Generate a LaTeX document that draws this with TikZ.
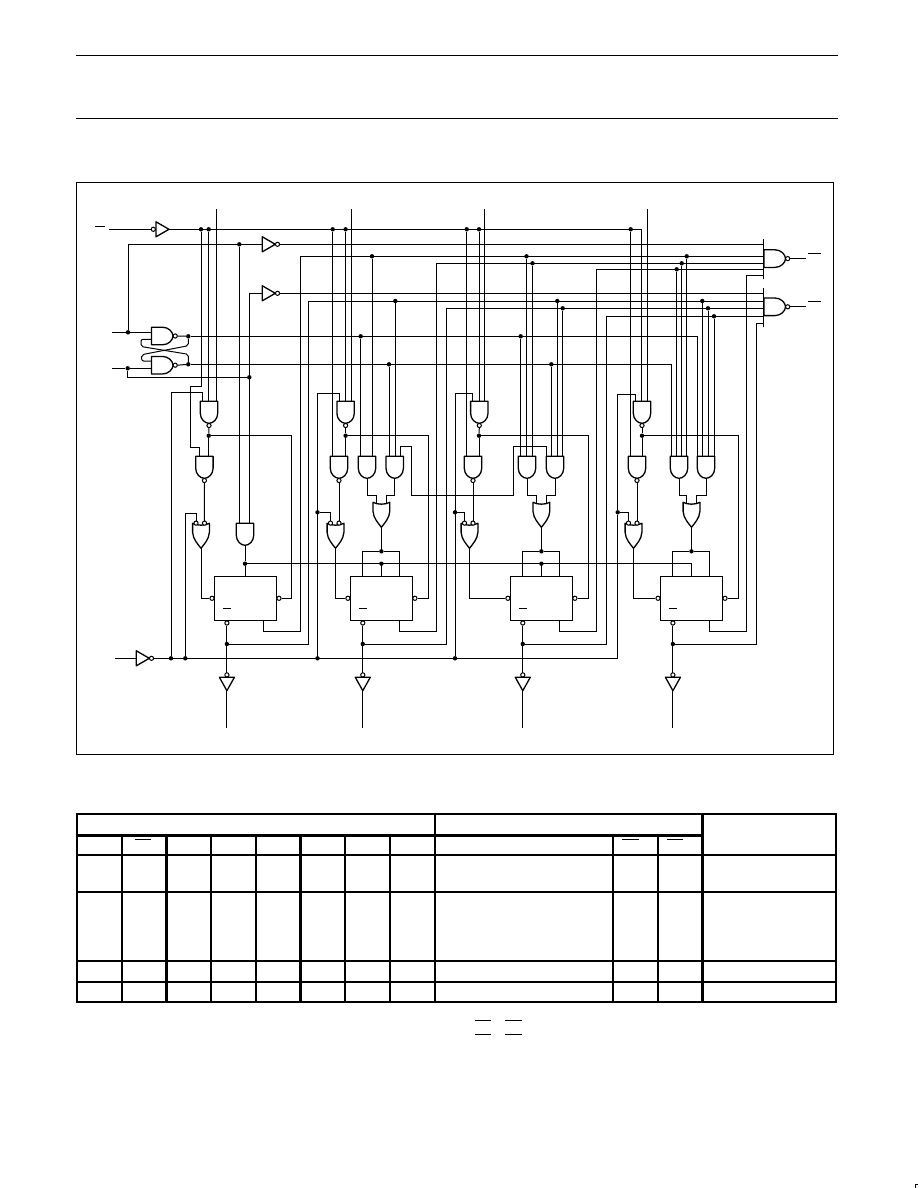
\documentclass[tikz,border=0pt]{standalone}
\newcommand{\barx}{763.5}
\tikzset{
  wire/.style={line width=1pt},
  gate/.style={line width=1.3pt,line join=round},
  dotn/.style={circle,fill=black,inner sep=0pt,minimum size=4.4pt},
  bub/.style={circle,draw,fill=white,line width=1pt,inner sep=0pt,minimum size=4.2pt},
  ffbox/.style={draw,line width=1.1pt,minimum width=62.4pt,minimum height=44pt,inner sep=0pt},
  andv/.pic={
    \draw[gate] (-8.7,12) -- (-8.7,0) -- (8.7,0) -- (8.7,12) .. controls (8.7,18) and (4,22) .. (0,22)
      .. controls (-4,22) and (-8.7,18) .. (-8.7,12) -- cycle;
    \coordinate (-top) at (0,0);
    \coordinate (-out) at (0,22);
  },
  nandv/.pic={
    \draw[gate] (-8.7,12) -- (-8.7,0) -- (8.7,0) -- (8.7,12) .. controls (8.7,18) and (4,22) .. (0,22)
      .. controls (-4,22) and (-8.7,18) .. (-8.7,12) -- cycle;
    \draw[wire,fill=white] (0,24.2) circle (2.1);
    \coordinate (-top) at (0,0);
    \coordinate (-out) at (0,26.3);
  },
  orv/.pic={
    \draw[gate] (-8.4,0) .. controls (-4,2.5) and (4,2.5) .. (8.4,0) -- (8.4,9) .. controls (8,16) and (3,21) .. (0,25)
      .. controls (-3,21) and (-8,16) .. (-8.4,9) -- cycle;
    \coordinate (-l) at (-4.7,1.5);
    \coordinate (-r) at (4.7,1.5);
    \coordinate (-lu) at (-4.7,-7);
    \coordinate (-ru) at (4.7,-7);
    \coordinate (-out) at (0,25);
  },
  norb/.pic={
    \draw[gate] (-8.4,0) .. controls (-4,2.5) and (4,2.5) .. (8.4,0) -- (8.4,9) .. controls (8,16) and (3,21) .. (0,25)
      .. controls (-3,21) and (-8,16) .. (-8.4,9) -- cycle;
    \draw[wire,fill=white] (-5,-0.2) circle (2.1);
    \draw[wire,fill=white] (3.5,-0.2) circle (2.1);
    \coordinate (-p) at (-5,-2.3);
    \coordinate (-q) at (3.5,-2.3);
    \coordinate (-pu) at (-5,-10);
    \coordinate (-out) at (0,25);
  },
  nandh/.pic={
    \draw[gate] (0,-8.8) -- (11,-8.8) .. controls (17,-8.8) and (21.5,-4) .. (21.5,0)
      .. controls (21.5,4) and (17,8.8) .. (11,8.8) -- (0,8.8) -- cycle;
    \draw[wire,fill=white] (23.7,0) circle (2.1);
    \coordinate (-in) at (0,0);
    \coordinate (-out) at (25.8,0);
  },
  invr/.pic={
    \draw[gate] (0,-7.5) -- (13,0) -- (0,7.5) -- cycle;
    \draw[wire,fill=white] (15.2,0) circle (2.1);
    \coordinate (-in) at (0,0);
    \coordinate (-out) at (17.3,0);
  },
  bufl/.pic={
    \draw[gate] (0,-7.5) -- (13,0) -- (0,7.5) -- cycle;
    \draw[wire,fill=white] (-2.7,0) circle (2.1);
    \coordinate (-in) at (-4.8,0);
    \coordinate (-out) at (13,0);
  },
  invd/.pic={
    \draw[gate] (-7.5,0) -- (0,13.4) -- (7.5,0) -- cycle;
    \draw[wire,fill=white] (0,-2.4) circle (2.1);
    \coordinate (-in) at (0,-4.5);
    \coordinate (-out) at (0,13.4);
  },
}

\begin{document}
\begin{tikzpicture}[x=1pt,y=-1pt]
  \useasboundingbox (0,0) rectangle (918,1188);
  % page rules and frame
  \draw[wire] (76,55.5) -- (838,55.5);
  \draw[wire] (76,118.5) -- (838,118.5);
  \draw[wire] (76.5,182.4) rectangle (833.4,754.3);
  \draw[wire] (915.5,1188) -- (915.5,1184.5) -- (918,1184.5);

  % junctions
  \foreach \nm/\x/\y in {k1/201/229.3,k2/208.7/229.3,k3/332.7/229.3,k4/345.6/229.3,k5/466.7/229.3,k6/479/229.3,k7/630.7/229.3,
      j1/239.3/244.3,t1/372/256.3,t2/526.5/256.3,t3/686.7/256.3,u1/532.5/263.3,u2/681.7/263.3,v1/676.7/269.3,
      w1/395.3/301,w2/557.3/301,w3/702.3/301,x1/562.7/308.3,x2/708/308.3,y1/714/316.3,
      q1/188.3/336.3,q2/360.7/336.3,q3/520.7/336.3,r1/188.3/364.3,r2/389/364.3,r3/551.3/364.3,
      s1/128/332.3,s2/127.7/368.3,s3/249.3/377.3,
      p1/171/658.3,p2/185.3/658.3,p3/317.5/658.3,p4/455/658.3,b1/317.5/512.3,b2/455/512.3,b3/617.7/512.3,
      gA/208.7/435.7,gB/345.6/435.7,gC/479/435.7,gD/642/435.7,
      z1/245/563.7,z2/381.4/563.7,z3/541.4/563.7,oB/381.4/551.3,oC/541.4/551.3,oD/691.5/551.3}
    \node[dotn] (\nm) at (\x,\y) {};
  % free ends and gate pins
  \foreach \nm/\x/\y in {tA/216.3/209,tB/351.3/209,tC/484.3/209,tD/647.3/209,
      clkin/109/229.3,inj/112/332.3,ink/112/368.3,cpin/115/658.3,
      pinA/202.7/401.3,pinB/339.3/401.3,pinC/472.3/401.3,pinD/635.7/401.3,pinE/641.7/401.3,
      pinF/199.7/456.3,pinG/400.3/456.3,pinH/546.7/456.3,pinI/671.7/456.3,pinJ/697.7/456.3,
      outq/806/258.6,outqb/806/306.8}
    \coordinate (\nm) at (\x,\y);

  % gates
  \foreach \nm/\x/\y in {nA1/209/401.3,nB1/345.6/401.3,nC1/479.3/401.3,nD1/642/401.3,
      nA2/204.4/456.3,nB2/339/456.3,nC2/473/456.3,nD2/637/456.3}
    \pic (\nm) at (\x,\y) {nandv};
  \foreach \nm/\x in {nB3/367,nB4/394.7,nC3/527,nC4/555,nD3/679,nD4/706}
    \pic (\nm) at (\x,456.3) {andv};
  \pic (andA) at (245,523.3) {andv};
  \foreach \nm/\x in {orA/201,orB/335.5,orC/469.5,orD/633.5}
    \pic (\nm) at (\x,523.3) {norb};
  \foreach \nm/\x in {xB/381.4,xC/541.4,xD/691.5}
    \pic (\nm) at (\x,502.3) {orv};
  \pic (latS) at (151.5,336) {nandh};
  \pic (latR) at (151.5,365.2) {nandh};
  \pic (nandQ) at (764,258.6) {nandh};
  \pic (nandP) at (764,306.8) {nandh};
  \pic (buf1) at (156,229.3) {bufl};
  \pic (invHi) at (262.3,244.3) {invr};
  \pic (invLo) at (262.3,293.3) {invr};
  \pic (invCk) at (136.3,658.3) {invr};
  \draw[wire] (\barx,239.3) -- (\barx,278.7);
  \draw[wire] (\barx,288.3) -- (\barx,327.3);
  \draw[wire] (nandQ-out) -- (outq);
  \draw[wire] (nandP-out) -- (outqb);
  \draw[wire] (808.3,253) -- (820.7,253);
  \draw[wire] (808.3,301.7) -- (820.7,301.7);
  \draw[wire] (95,226) -- (105,226);

  % flip-flops with their output wiring
  \foreach \nm/\xc/\ua/\ya/\ub/\yb/\cx in {A/245.5/300.3/256.3/308.3/301/291.7,B/381.4/436.7/263.3/446.3/308.3/428.3,
      C/541.4/596.7/269.3/606.7/316.3/588.5,D/691.5/746.7/275.3/756.7/323.3/738.3} {
    \node[ffbox] (ff\nm) at (\xc,598.3) {};
    \node[bub] (ffl\nm) at ({\xc-33.5},598.3) {};
    \node[bub] (ffr\nm) at ({\xc+33.5},598.3) {};
    \node[bub] (bq\nm) at ({\xc-18.6},623) {};
    \node[dotn] (m\nm) at ({\xc-18.6},644) {};
    \pic (inv\nm) at ({\xc-18.6},677.3) {invd};
    \coordinate (end\nm) at ({\xc-18.6},727.7);
    \draw[wire] ({\xc-22.5},608) -- ({\xc-14.5},608);
    \draw[wire] (bq\nm) -- (m\nm) -- (inv\nm-in);
    \draw[wire] (inv\nm-out) -- (end\nm);
    \draw[wire] (m\nm) -| (\ub,\yb) -- (\barx,\yb);
    \draw[wire] ([xshift=18pt]ff\nm.south) |- (\ua,631.7) -- (\ua,\ya) -- (\barx,\ya);
    \draw[wire] (ffr\nm) -- (\cx,598.3) |- (g\nm);
    \draw[wire] (or\nm-out) |- (ffl\nm);
    \draw[wire] (or\nm-q) -- (n\nm2-out);
  }

  % clock and latch
  \draw[wire] (clkin) -- (buf1-in);
  \draw[wire] (buf1-out) -| (pinE);
  \draw[wire] (inj) -- (s1) -- (s1 -| latS-in);
  \draw[wire] (ink) -- (s2) -- (s2 -| latR-in);
  \draw[wire] (latS-out) -- (q1);
  \draw[wire] (latR-out) -- (r1);
  \draw[wire,rounded corners=2pt] (151.5,339.3) -- (141,339.3) -- (141,346.5) -- (188.3,354.3) -- (r1);
  \draw[wire,rounded corners=2pt] (151.5,361) -- (141.7,361) -- (141.7,354.7) -- (188.3,345.7) -- (q1);
  \draw[wire] (q1) -| (pinJ);
  \draw[wire] (r1) -| (pinI);
  \draw[wire] (s1) |- (invHi-in);
  \draw[wire] (invHi-out) -- (\barx,244.3);
  \draw[wire] (s2) |- (s3);
  \draw[wire] (s3 |- andA-top) |- (invLo-in);
  \draw[wire] (invLo-out) -- (\barx,293.3);
  \draw[wire] (j1) -- (j1 |- andA-top);
  \draw[wire] (andA-out) -- (z1) -- (z1 |- ffA.north);
  \draw[wire] (z1) -| (ffD.north);
  \draw[wire] (z2) -- (z2 |- ffB.north);
  \draw[wire] (z3) -- (z3 |- ffC.north);

  % count enable line
  \draw[wire] (cpin) -- (invCk-in);
  \draw[wire] (invCk-out) -| (b3);
  \draw[wire] (b3) |- (635.7,394.3) -- (pinD);
  \draw[wire] (b3) -| (orD-p);
  \draw[wire] (p1) |- (202.7,392.3) -- (pinA);
  \draw[wire] (p2) |- (orA-pu) -- (orA-p);
  \draw[wire] (p3) |- (339.3,393.3) -- (pinB);
  \draw[wire] (b1) -| (orB-p);
  \draw[wire] (p4) |- (472.3,393.7) -- (pinC);
  \draw[wire] (b2) -| (orC-p);

  % first and second gate of each stage
  \draw[wire] (k1) |- (190.3,386.3) |- (199.7,447.3) -- (pinF);
  \foreach \from/\gt in {k2/nA1,tA/nA1,k4/nB1,tB/nB1,k3/nB2,k6/nC1,tC/nC1,k5/nC2,tD/nD1,k7/nD2,
      t1/nB3,q2/nB3,w1/nB4,r2/nB4,q3/nC3,t2/nC3,u1/nC3,r3/nC4,w2/nC4,x1/nC4,
      v1/nD3,u2/nD3,t3/nD3,w3/nD4,x2/nD4,y1/nD4}
    \draw[wire] (\from) -- (\from |- \gt-top);
  \foreach \nm in {A,B,C,D} {
    \draw[wire] (n\nm1-out) -- (g\nm);
    \draw[wire] (g\nm) -- (g\nm |- n\nm2-top);
  }
  \draw[wire] (pinG) |- (411.7,446.7) |- (513.3,495.3) |- (546.7,446.7) -- (pinH);

  % third stage gates into the or, then into the flip-flop
  \foreach \nm in {B,C,D} {
    \draw[wire] (n\nm3-out) |- (x\nm-lu) -- (x\nm-l);
    \draw[wire] (n\nm4-out) |- (x\nm-ru) -- (x\nm-r);
    \draw[wire] (x\nm-out) -- (o\nm);
    \draw[wire] ([xshift=-18.6pt]ff\nm.north) |- (o\nm) -| ([xshift=18pt]ff\nm.north);
  }

  % function table
  \foreach \y in {855,892,960.7,982}
    \draw[line width=1.9pt] (77,\y) -- (836,\y);
  \draw[line width=2.7pt] (77,835.3) -- (702.7,835.3);
  \draw[line width=1.9pt] (76,814) -| (836,1002) -| (77,814);
  \foreach \x in {122,211,256,345.3,390,613,658}
    \draw[line width=1.7pt] (\x,835.3) -- (\x,1002);
  \foreach \x in {166.3,300.7}
    \draw[line width=2.7pt] (\x,835.3) -- (\x,1002);
  \foreach \x in {435,702.7}
    \draw[line width=2.7pt] (\x,814) -- (\x,1002);
  \foreach \xa/\xb/\y in {135/151/839.3,622/639.3/839.3,667/683/839.3,475/491.3/1020.3,505/522/1020.3,475/491.3/1034.3,505/522/1034.3}
    \draw[wire] (\xa,\y) -- (\xb,\y);
\end{tikzpicture}
\end{document}
